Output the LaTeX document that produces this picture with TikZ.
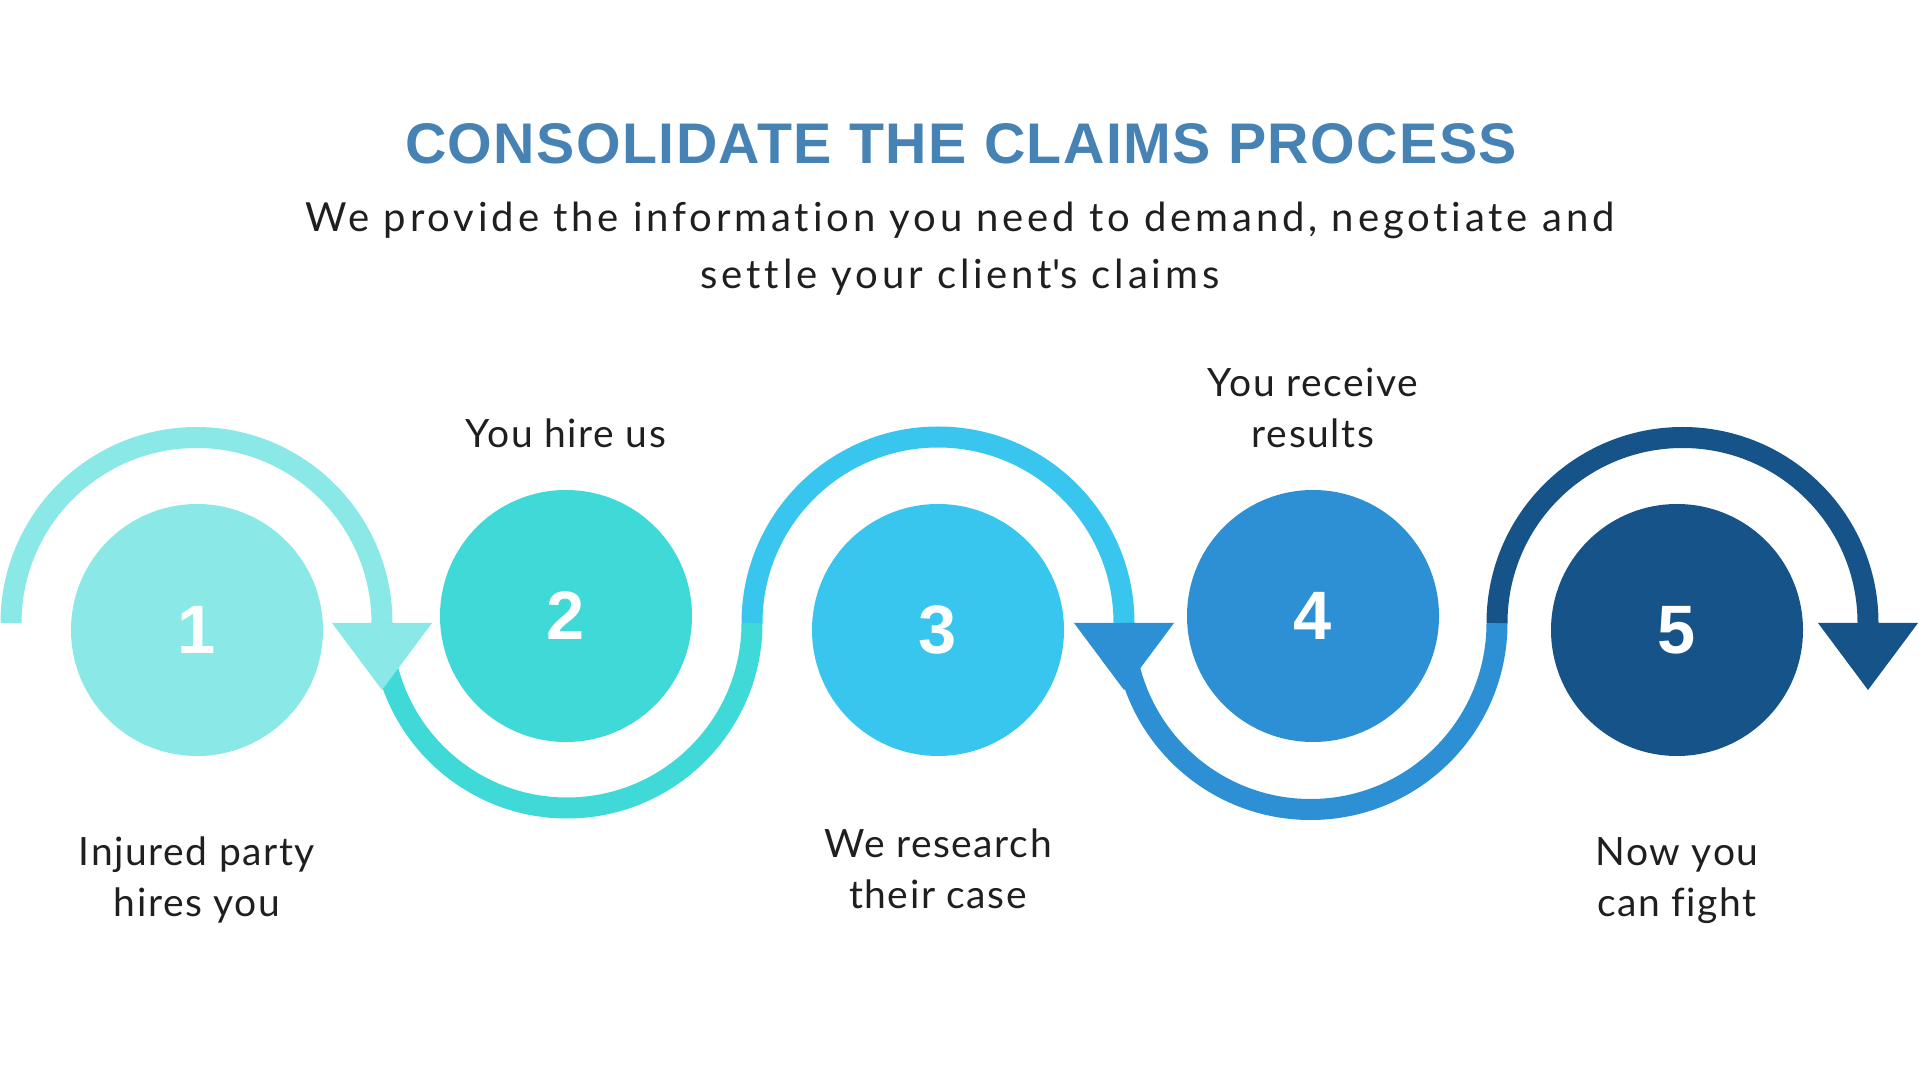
\documentclass[tikz,border=0pt]{standalone}
\usepackage{fontspec}
\setmainfont{Lato}
\newfontfamily\labelfont[LetterSpace=4, Ligatures={NoCommon}]{Lato}
\newfontfamily\subfont[LetterSpace=9.6, Ligatures={NoCommon}]{Lato}
\newfontfamily\titlefont[LetterSpace=2.5]{Liberation Sans}
\newfontfamily\numfont{Liberation Sans}

\definecolor{stepone}{HTML}{8AE9E6}
\definecolor{steptwo}{HTML}{3FD9D7}
\definecolor{stepthree}{HTML}{38C6EF}
\definecolor{stepfour}{HTML}{2D8FD4}
\definecolor{stepfive}{HTML}{165389}
\definecolor{titleblue}{HTML}{4682B4}
\definecolor{textgray}{HTML}{1F1F1F}

\tikzset{
    looparc/.style={line width=0.21cm},
    stepdot/.style={circle, minimum size=2.52cm, inner sep=0pt, text=white,
        font=\numfont\bfseries\fontsize{19.5}{20}\selectfont},
    steptext/.style={align=center, text=textgray,
        font=\labelfont\fontsize{11.1}{14.5}\selectfont}
}

\begin{document}
\begin{tikzpicture}
        \useasboundingbox (0,0) rectangle (19.19,10.79);

        \coordinate (p0) at (0.11,4.56);
        \coordinate (p1) at (3.82,4.56);
        \coordinate (p2) at (7.52,4.56);
        \coordinate (p3) at (11.24,4.56);
        \coordinate (p4) at (14.97,4.56);
        \coordinate (p5) at (18.68,4.56);

        \draw [stepone, looparc] (p0) arc [start angle=180, end angle=0, radius=1.855];
        \draw [steptwo, looparc] (p1) arc [start angle=180, end angle=360, radius=1.85];
        \draw [stepthree, looparc] (p2) arc [start angle=180, end angle=0, radius=1.86];
        \draw [stepfour, looparc] (p3) arc [start angle=180, end angle=360, radius=1.865];
        \draw [stepfive, looparc] (p4) arc [start angle=180, end angle=0, radius=1.855];

        \fill [stepone] ([xshift=-0.5cm]p1) -- ([xshift=0.5cm]p1) -- ([yshift=-0.67cm]p1) -- cycle;
        \fill [stepfour] ([xshift=-0.5cm]p3) -- ([xshift=0.5cm]p3) -- ([yshift=-0.67cm]p3) -- cycle;
        \fill [stepfive] ([xshift=-0.5cm]p5) -- ([xshift=0.5cm]p5) -- ([yshift=-0.67cm]p5) -- cycle;

        \node[stepdot, fill=stepone] (s1) at (1.97, 4.49) {1};
        \node[stepdot, fill=steptwo] (s2) at (5.66, 4.63) {2};
        \node[stepdot, fill=stepthree] (s3) at (9.38, 4.49) {3};
        \node[stepdot, fill=stepfour] (s4) at (13.13, 4.63) {4};
        \node[stepdot, fill=stepfive] (s5) at (16.77, 4.49) {5};

        \node[steptext] (t1) at (1.97, 1.99) {Injured party\\hires you};
        \node[steptext] (t2) at (5.66, 6.46) {You hire us};
        \node[steptext] (t3) at (9.38, 2.10) {We research\\their case};
        \node[steptext] (t4) at (13.13, 6.71) {You receive\\results};
        \node[steptext] (t5) at (16.77, 1.98) {Now you\\can fight};

        \node[text=titleblue, font=\titlefont\bfseries\fontsize{16.3}{18}\selectfont] (title) at (9.61, 9.355)
            {CONSOLIDATE THE CLAIMS PROCESS};
        \node[align=center, text=textgray, font=\subfont\fontsize{11.4}{16.3}\selectfont] (subtitle) at (9.60, 8.30)
            {We provide the information you need to demand, negotiate and\\settle your client\textquotesingle s claims};
    \end{tikzpicture}
\end{document}
